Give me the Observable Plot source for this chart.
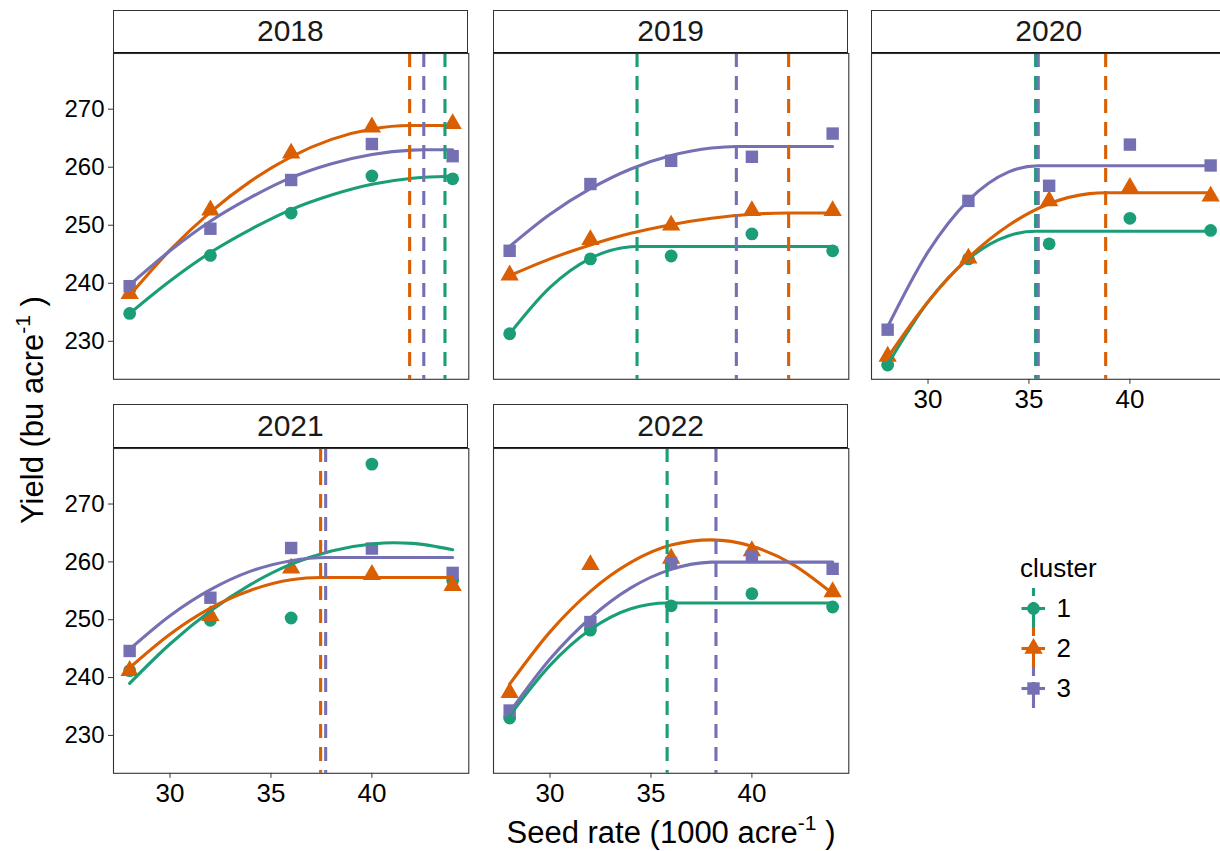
<!DOCTYPE html>
<html><head><meta charset="utf-8">
<script src="https://cdn.jsdelivr.net/npm/d3@7"></script>
<script src="https://cdn.jsdelivr.net/npm/@observablehq/plot@0.6"></script>
<style>
html,body{margin:0;padding:0;background:#fff;}
#root{position:relative;width:1220px;height:851px;overflow:hidden;background:#fff;font-family:"Liberation Sans",Arial,Helvetica,sans-serif;color:#000;}
.strip{position:absolute;box-sizing:border-box;border:1px solid #333;border-bottom:1px solid #111;background:#fff;display:flex;align-items:center;justify-content:center;font-size:30px;color:#1a1a1a;}
.ctr{position:absolute;transform:translate(-50%,-50%);white-space:nowrap;line-height:1;}
.sup{font-size:0.68em;position:relative;top:-0.6em;}
.pan{position:absolute;}
</style></head><body><div id="root"></div><script>
// ---------- data ----------
const years = [2018, 2019, 2020, 2021, 2022];
const clusters = ["1", "2", "3"];
const colors = ["#1B9E77", "#D95F02", "#7570B3"];
const symbols = ["circle", "triangle", "square"];
const seedRates = [28, 32, 36, 40, 44];
const xTicks = [30, 35, 40];
const yTicks = [230, 240, 250, 260, 270];

// observed mean yields, one row per cluster (1,2,3), at seedRates
const yield2018 = [[234.8, 244.8, 252.1, 258.5, 258.0],
                   [238.2, 252.6, 262.4, 266.9, 267.5],
                   [239.5, 249.4, 257.8, 264.0, 261.9]];
const yield2019 = [[231.3, 244.2, 244.7, 248.5, 245.6],
                   [241.4, 247.5, 250.0, 252.5, 252.5],
                   [245.6, 257.1, 261.1, 261.8, 265.8]];
const yield2020 = [[225.9, 244.2, 246.8, 251.2, 249.1],
                   [227.4, 244.3, 254.2, 256.5, 255.0],
                   [232.0, 254.2, 256.8, 263.9, 260.3]];
const yield2021 = [[241.2, 249.9, 250.3, 276.9, 256.8],
                   [241.2, 250.7, 258.9, 257.8, 255.9],
                   [244.6, 253.8, 262.4, 262.3, 258.1]];
const yield2022 = [[233.0, 248.2, 252.4, 254.5, 252.2],
                   [237.4, 259.5, 260.6, 261.9, 254.8],
                   [234.3, 249.6, 259.8, 260.9, 258.8]];

// fitted curves: [seed rate, yield]
const fit2018 = [
  [[28,234.8],[30,240.4],[32,245.3],[34,249.3],[36,252.7],[38,255.2],[40,257.05],[42,258.1],[43.62,258.4],[44,258.4]],
  [[28,237.9],[30,245.7],[32,252.25],[34,257.6],[36,261.8],[38,264.8],[40,266.6],[41.87,267.2],[44,267.2]],
  [[28,239.7],[30,245.6],[32,250.7],[34,254.8],[36,258.2],[38,260.6],[40,262.2],[42,262.95],[42.57,263.0],[44,263.0]]];
const fit2019 = [
  [[28,231.3],[30,239.3],[32,244.3],[34,246.3],[34.31,246.35],[44,246.35]],
  [[28,241.3],[30,244.2],[32,246.6],[34,248.6],[36,250.1],[38,251.2],[40,251.9],[41.82,252.1],[44,252.1]],
  [[28,246.35],[30,251.9],[32,256.3],[34,259.7],[36,262.0],[38,263.3],[39.23,263.57],[44,263.57]]];
const fit2020 = [
  [[28,226.0],[30,236.8],[32,244.2],[34,248.2],[35.33,248.96],[44,248.96]],
  [[28,227.2],[30,236.8],[32,244.4],[34,250.0],[36,253.7],[38,255.45],[38.8,255.6],[44,255.6]],
  [[28,232.5],[30,245.4],[32,254.3],[34,259.2],[35.46,260.26],[44,260.26]]];
const fit2021 = [
  [[28,239.0],[30,245.8],[32,251.5],[34,256.1],[36,259.6],[38,261.9],[40,263.1],[41.1,263.3],[42,263.2],[44,262.1]],
  [[28,241.7],[30,247.5],[32,252.0],[34,255.1],[36,256.9],[37.46,257.3],[44,257.3]],
  [[28,244.9],[30,250.7],[32,255.2],[34,258.4],[36,260.2],[37.71,260.76],[44,260.76]]];
const fit2022 = [
  [[28,233.4],[30,242.1],[32,248.3],[34,251.9],[35.8,252.9],[44,252.9]],
  [[28,238.85],[30,247.9],[32,254.9],[34,259.9],[36,262.9],[38,263.8],[40,262.7],[42,259.6],[44,254.5]],
  [[28,234.0],[30,243.2],[32,250.3],[34,255.5],[36,258.7],[38,259.95],[38.22,259.96],[44,259.96]]];

// optimum seed rates (dashed lines); null = not shown
const optimum2018 = [43.62, 41.87, 42.57];
const optimum2019 = [34.31, 41.82, 39.23];
const optimum2020 = [35.33, 38.8, 35.46];
const optimum2021 = [null, 37.46, 37.71];
const optimum2022 = [35.8, null, 38.22];

const yields = [yield2018, yield2019, yield2020, yield2021, yield2022];
const fits = [fit2018, fit2019, fit2020, fit2021, fit2022];
const optima = [optimum2018, optimum2019, optimum2020, optimum2021, optimum2022];

// ---------- layout ----------
const root = document.getElementById("root");
const colLeft = [112.7, 493, 871.1];
const panelW = 355.3;
const stripTop = [9.7, 404];
const panelTop = [52.5, 447.5];
const panelH = [325.8, 324.8];
const xDomain = [27.2, 44.8];
const yDomain = [223.45, 279.6];
const radii = [6.4, 6.8, 7.0];
const LW = 3.1;
const DASH = "14,9";

years.forEach((yr, i) => {
  const col = i % 3, row = Math.floor(i / 3);
  const hasY = col === 0;
  const hasX = row === 1 || col === 2;
  const ml = hasY ? 70 : 4, mr = 4, mt = 4, mb = hasX ? 50 : 4;
  const marks = [];
  clusters.forEach((c, k) => {
    const pts = seedRates.map((s, j) => ({s, y: yields[i][k][j]}));
    marks.push(Plot.dot(pts, {x: "s", y: "y", symbol: symbols[k], fill: colors[k], r: radii[k], stroke: "none"}));
  });
  clusters.forEach((c, k) => {
    marks.push(Plot.line(fits[i][k], {x: d => d[0], y: d => d[1], stroke: colors[k], strokeWidth: LW, curve: "monotone-x"}));
  });
  clusters.forEach((c, k) => {
    const o = optima[i][k];
    if (o != null) marks.push(Plot.ruleX([o], {stroke: colors[k], strokeWidth: LW, strokeDasharray: DASH}));
  });
  if (hasY) marks.push(Plot.axisY({ticks: yTicks, tickSize: 5, tickPadding: 4, fontSize: 24, label: null, stroke: "#333", fill: "#000"}));
  if (hasX) marks.push(Plot.axisX({ticks: xTicks, tickSize: 5, tickPadding: 5, fontSize: 26, label: null, stroke: "#333", fill: "#000"}));
  marks.push(Plot.frame({stroke: "#333", strokeWidth: 1.1}));
  const W = panelW + ml + mr, H = panelH[row] + mt + mb;
  const svg = Plot.plot({
    width: W, height: H,
    marginLeft: ml, marginRight: mr, marginTop: mt, marginBottom: mb,
    x: {domain: xDomain, axis: null},
    y: {domain: yDomain, axis: null},
    marks,
    style: {background: "transparent", overflow: "visible", maxWidth: "none", fontFamily: "Liberation Sans, Arial, sans-serif", color: "#000"}
  });
  const holder = document.createElement("div");
  holder.className = "pan";
  Object.assign(holder.style, {left: (colLeft[col] - ml) + "px", top: (panelTop[row] - mt) + "px", width: W + "px", height: H + "px"});
  holder.appendChild(svg);
  root.appendChild(holder);
  const st = document.createElement("div");
  st.className = "strip";
  Object.assign(st.style, {left: colLeft[col] + "px", top: stripTop[row] + "px", width: panelW + "px", height: (panelTop[row] - stripTop[row] + 0.5) + "px"});
  st.textContent = String(yr);
  root.appendChild(st);
});

// axis titles
const xt = document.createElement("div");
xt.className = "ctr";
Object.assign(xt.style, {left: "671px", top: "832px", fontSize: "31px"});
xt.innerHTML = 'Seed rate (1000 acre<span class="sup">-1</span> )';
root.appendChild(xt);
const yt = document.createElement("div");
yt.className = "ctr";
Object.assign(yt.style, {left: "32px", top: "410px", fontSize: "31px", transform: "translate(-50%,-50%) rotate(-90deg)"});
yt.innerHTML = 'Yield (bu acre<span class="sup">-1</span> )';
root.appendChild(yt);

// legend
const lt = document.createElement("div");
Object.assign(lt.style, {position: "absolute", left: "1020px", top: "553px", fontSize: "26px", lineHeight: "30px"});
lt.textContent = "cluster";
root.appendChild(lt);
const legItems = clusters.map((c, k) => ({c, k, color: colors[k]}));
const legMarks = [
  Plot.ruleX(legItems, {x: 33, y1: d => d.k - 0.5, y2: d => d.k + 0.5, stroke: "color", strokeWidth: LW, strokeDasharray: "8,6,60"}),
  Plot.ruleY(legItems, {y: "k", x1: 21.5, x2: 45, stroke: "color", strokeWidth: LW})
];
clusters.forEach((c, k) => legMarks.push(Plot.dot([legItems[k]], {x: 33, y: "k", symbol: symbols[k], fill: colors[k], r: radii[k]})));
legMarks.push(Plot.text(legItems, {x: 56, y: "k", text: "c", textAnchor: "start", fontSize: 26, fill: "#000"}));
const leg = Plot.plot({
  width: 120, height: 120, margin: 0,
  x: {domain: [0, 120], range: [0, 120], axis: null},
  y: {domain: [-0.5, 2.5], range: [0, 120], axis: null},
  marks: legMarks,
  style: {background: "transparent", overflow: "visible", maxWidth: "none", fontFamily: "Liberation Sans, Arial, sans-serif"}
});
const lh = document.createElement("div");
lh.className = "pan";
Object.assign(lh.style, {left: "1000px", top: "588px", width: "120px", height: "120px"});
lh.appendChild(leg);
root.appendChild(lh);
</script></body></html>
